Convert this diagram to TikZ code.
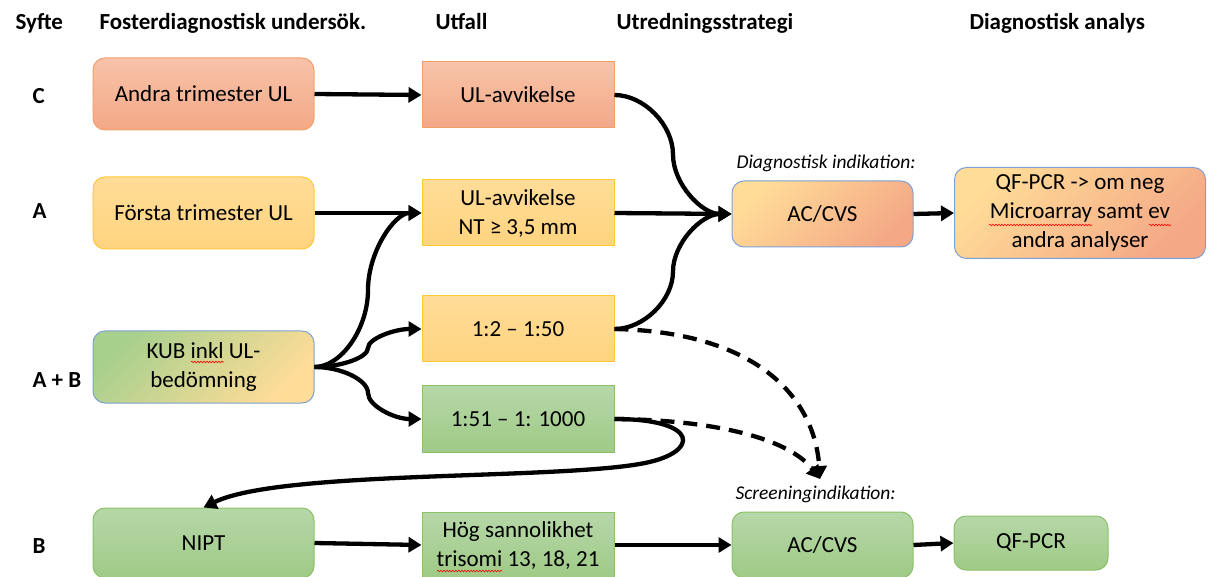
\documentclass[tikz,border=0pt]{standalone}
\usepackage{fontspec}
\setmainfont{Carlito}
\usetikzlibrary{arrows.meta,calc,decorations.pathmorphing}
\definecolor{salT}{HTML}{F7C3A9}
\definecolor{salB}{HTML}{F4A886}
\definecolor{salD}{HTML}{F1A06A}
\definecolor{ylT}{HTML}{FFDC98}
\definecolor{ylB}{HTML}{FFD47F}
\definecolor{ylD}{HTML}{FFC935}
\definecolor{grT}{HTML}{B6D7A8}
\definecolor{grB}{HTML}{9FCA86}
\definecolor{grD}{HTML}{8BC168}
\definecolor{blD}{HTML}{7DA1D6}
\definecolor{kubG}{HTML}{A8D08D}
\begin{document}
\begin{tikzpicture}[x=1pt,y=-1pt,
  every node/.style={font=\fontsize{23}{29}\selectfont, text=black},
  box/.style={draw, line width=1pt, minimum width=192pt, minimum height=66pt, inner sep=2pt, align=center},
  rbox/.style={box, rounded corners=12pt, minimum width=221pt, minimum height=72pt},
  sal/.style={draw=salD, top color=salT, bottom color=salB},
  yel/.style={draw=ylD, top color=ylT, bottom color=ylB},
  grn/.style={draw=grD, top color=grT, bottom color=grB},
  ysal/.style={draw=blD, top color=ylT, bottom color=salB, shading angle=45},
  kubf/.style={draw=blD, top color=kubG, bottom color=ylT, shading angle=45},
  hdr/.style={font=\bfseries\fontsize{23}{28}\selectfont, anchor=base west},
  ital/.style={font=\itshape\fontsize{19.5}{23}\selectfont, anchor=west},
  arr/.style={line width=4.3pt, -{Triangle[length=13pt,width=15pt]}},
  darr/.style={arr, dash pattern=on 14pt off 9pt},
  curved3/.style={to path={let \p1=(\tikztostart), \p2=(\tikztotarget) in
    .. controls ({\x1+(\x2-\x1)/4},\y1) and ({(\x1+\x2)/2},{\y1+(\y2-\y1)/4}) .. ({(\x1+\x2)/2},{(\y1+\y2)/2})
    .. controls ({(\x1+\x2)/2},{\y1+3*(\y2-\y1)/4}) and ({\x1+3*(\x2-\x1)/4},\y2) .. (\tikztotarget) \tikztonodes}},
  spell/.style={red, line width=0.6pt, decorate, decoration={snake, amplitude=0.8pt, segment length=3pt}}
]
\useasboundingbox (0,0) rectangle (1208,577);

% headers
\node[hdr] (h1) at (12,30) {Syfte};
\node[hdr] (h2) at (96,30) {Fosterdiagnostisk undersök.};
\node[hdr] (h3) at (432,30) {Utfall};
\node[hdr] (h4) at (613,30) {Utredningsstrategi};
\node[hdr] (h5) at (966,30) {Diagnostisk analys};

% row labels
\node[hdr] (lC) at (29,104) {C};
\node[hdr] (lA) at (29,219) {A};
\node[hdr] (lAB) at (29,388) {A + B};
\node[hdr] (lB) at (29,553) {B};

% boxes
\node[rbox, sal] (andra) at (203.5,94) {Andra trimester UL};
\node[box, sal] (ulC) at (518,95) {UL-avvikelse};
\node[rbox, yel] (forsta) at (203.5,213) {Första trimester UL};
\node[box, yel] (ulA) at (518,213) {UL-avvikelse\\NT ≥ 3,5 mm};
\node[box, yel] (r250) at (518,329) {1:2 – 1:50};
\node[rbox, kubf] (kub) at (203.5,367) {KUB inkl UL-\\bedömning};
\node[box, grn] (r1000) at (518,419) {1:51 – 1: 1000};
\node[rbox, grn, minimum height=70pt] (nipt) at (203.5,543) {NIPT};
\node[box, grn] (hog) at (518,545) {Hög sannolikhet\\trisomi 13, 18, 21};
\node[rbox, ysal, minimum width=181pt, minimum height=66pt] (acd) at (822.5,214) {AC/CVS};
\node[rbox, ysal, minimum width=251pt, minimum height=91pt] (qfd) at (1080,213) {QF-PCR -> om neg\\Microarray samt ev\\andra analyser};
\node[rbox, grn, minimum width=181pt, minimum height=66pt] (acs) at (822.5,545) {AC/CVS};
\node[rbox, grn, minimum width=154pt, minimum height=54pt] (qfs) at (1031,543) {QF-PCR};

% italic labels
\node[ital] (dind) at (733,163) {Diagnostisk indikation:};
\node[ital] (sind) at (732,494) {Screeningindikation:};

\coordinate (sc) at (820,479);

% connectors
\draw[arr] (andra.east) -- (ulC.west);
\draw[arr] (forsta.east) -- (ulA.west);
\draw[arr] (kub.east) to[curved3] (ulA.west);
\draw[arr] (kub.east) to[curved3] (r250.west);
\draw[arr] (kub.east) to[curved3] (r1000.west);
\draw[arr] (ulC.east) to[curved3] (acd.west);
\draw[arr] (ulA.east) -- (acd.west);
\draw[arr] (r250.east) to[curved3] (acd.west);
\draw[arr] (acd.east) -- (qfd.west);
\draw[darr] (r250.east) .. controls (760,332) and (815,400) .. (sc);
\draw[darr] (r1000.east) .. controls (720,420) and (790,440) .. (sc);
\draw[arr] (r1000.east) .. controls (700,419) and (700,452) .. (645,463)
   .. controls (560,480) and (280,470) .. (nipt.north);
\draw[arr] (nipt.east) -- (hog.west);
\draw[arr] (hog.east) -- (acs.west);
\draw[arr] (acs.east) -- (qfs.west);

% spell-check underlines
\draw[spell] (191,362) -- (224,362);
\draw[spell] (989,225) -- (1092,225);
\draw[spell] (1149,225) -- (1171,225);
\draw[spell] (437,571) -- (502,571);
\end{tikzpicture}
\end{document}
